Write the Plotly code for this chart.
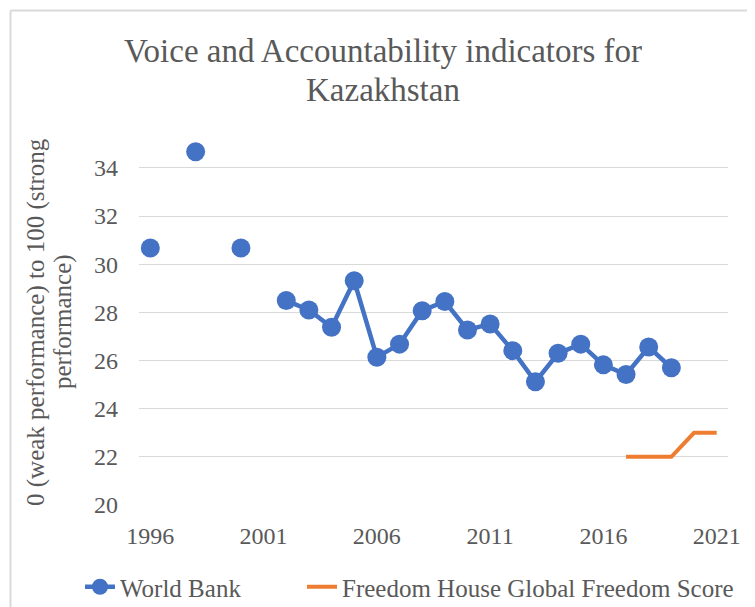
import plotly.graph_objects as go

# ---- data ----
wb_years = list(range(1996, 2020))
wb_values = [30.67, None, 34.67, None, 30.67, None,
             28.49, 28.10, 27.38, 29.31, 26.14, 26.68, 28.07, 28.45,
             27.27, 27.52, 26.41, 25.12, 26.30, 26.68, 25.82, 25.42, 26.56, 25.70]
fh_years = [2017, 2018, 2019, 2020, 2021]
fh_values = [22, 22, 22, 23, 23]
y_ticks = [20, 22, 24, 26, 28, 30, 32, 34]
x_ticks = [1996, 2001, 2006, 2011, 2016, 2021]

title_lines = ["Voice and Accountability indicators for", "Kazakhstan"]
ytitle_lines = ["0 (weak performance) to 100 (strong", "performance)"]

FONT = "Liberation Serif"
TXT = "#595959"
GRID = "#D9D9D9"

fig = go.Figure()
fig.add_trace(go.Scatter(
    x=wb_years, y=wb_values, mode="lines+markers", name="World Bank",
    line=dict(color="#4472C4", width=4.5),
    marker=dict(color="#4472C4", size=19),
    connectgaps=False, cliponaxis=False, legend="legend",
))
fig.add_trace(go.Scatter(
    x=fh_years, y=fh_values, mode="lines", name="Freedom House Global Freedom Score",
    line=dict(color="#ED7D31", width=4),
    cliponaxis=False, legend="legend2",
))

S = 8  # page offset of the figure in the browser
W, H = 755, 607
L, T = 139 - S, 139 - S
R = W - (728 - S)
B = H - (505 - S)
pw, ph = W - L - R, H - T - B

def px(xs):
    return (xs - S - L) / pw

def py(ys):
    return (H - B - (ys - S)) / ph

annotations = []
for txt, ys in zip(title_lines, [51, 90]):
    annotations.append(dict(text=txt, x=px(383), y=py(ys), xref="paper", yref="paper",
                            xanchor="center", yanchor="middle", showarrow=False,
                            font=dict(size=33, color=TXT, family=FONT)))
for txt, xs in zip(ytitle_lines, [36, 63]):
    annotations.append(dict(text=txt, x=px(xs), y=py(322), xref="paper", yref="paper",
                            xanchor="center", yanchor="middle", showarrow=False, textangle=-90,
                            font=dict(size=25, color=TXT, family=FONT)))

legend_common = dict(orientation="h", yanchor="middle", y=py(587),
                     font=dict(size=25, color=TXT), bgcolor="rgba(0,0,0,0)")

fig.update_layout(
    width=W, height=H,
    margin=dict(l=L, r=R, t=T, b=B, pad=0, autoexpand=False),
    paper_bgcolor="white", plot_bgcolor="white",
    font=dict(family=FONT, color=TXT, size=24),
    showlegend=True,
    legend=dict(x=px(80), xanchor="left", **legend_common),
    legend2=dict(x=px(302), xanchor="left", **legend_common),
    xaxis=dict(range=[1995.5, 2021.5], tickvals=x_ticks, ticktext=[str(v) for v in x_ticks],
               showgrid=False, zeroline=False, showline=False, ticks="", automargin=False,
               tickfont=dict(size=24, color=TXT), ticklabelstandoff=14),
    yaxis=dict(range=[20, 35.2], tickvals=y_ticks, ticktext=[str(v) for v in y_ticks],
               showgrid=True, gridcolor=GRID, gridwidth=1.3, zeroline=False, showline=False,
               ticks="", automargin=False, tickfont=dict(size=24, color=TXT),
               ticklabelstandoff=20),
    annotations=annotations,
    shapes=[
        dict(type="line", xref="paper", yref="paper", x0=px(10.5), x1=px(770),
             y0=py(10.5), y1=py(10.5), line=dict(color=GRID, width=2)),
        dict(type="line", xref="paper", yref="paper", x0=px(10.5), x1=px(10.5),
             y0=py(10.5), y1=py(620), line=dict(color=GRID, width=2)),
    ],
)

fig.write_html("out.html")
